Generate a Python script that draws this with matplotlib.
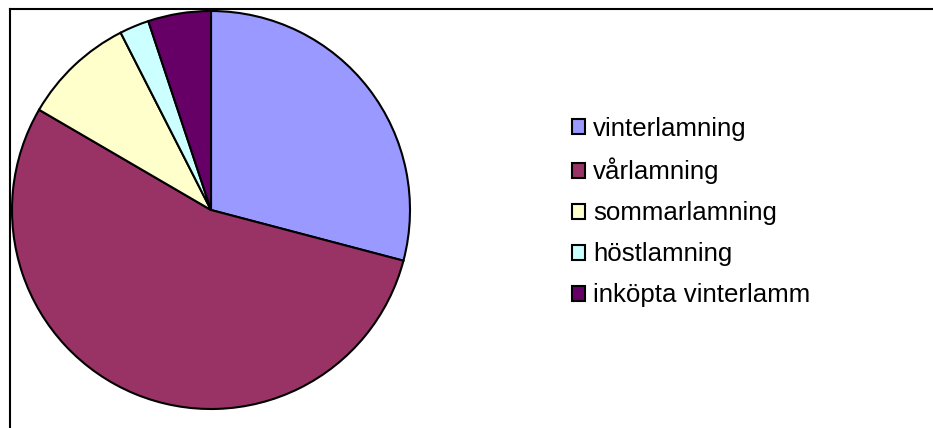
import matplotlib.pyplot as plt
from matplotlib.lines import Line2D

plt.rcParams['font.family'] = ['Liberation Sans', 'DejaVu Sans']

labels = ['vinterlamning', 'vårlamning', 'sommarlamning', 'höstlamning', 'inköpta vinterlamm']
shares = [29.1, 54.3, 9.1, 2.4, 5.1]
colors = ['#9999FF', '#993366', '#FFFFCC', '#CCFFFF', '#660066']

W, H = 933, 428
fig = plt.figure(figsize=(W / 100, H / 100), dpi=100)

# pie axes, square, center about (211, 210) px, radius ~199 px
cx, cy, r = 211, 210, 199
ax = fig.add_axes([(cx - r) / W, (H - cy - r) / H, 2 * r / W, 2 * r / H])
wedges, _ = ax.pie(shares, colors=colors, startangle=90, counterclock=False,
                   wedgeprops=dict(edgecolor='black', linewidth=1.5))
ax.set_xlim(-1, 1)
ax.set_ylim(-1, 1)
ax.set_aspect('equal')

# chart frame (top and left edges visible)
fig.add_artist(Line2D([9.5 / W, 1], [1 - 9 / H, 1 - 9 / H], transform=fig.transFigure,
                      color='black', lw=1.5))
fig.add_artist(Line2D([9.5 / W, 9.5 / W], [0, 1 - 9 / H], transform=fig.transFigure,
                      color='black', lw=1.5))

leg = fig.legend(wedges, labels, loc='center left',
                 bbox_to_anchor=(572 / W, (H - 212) / H),
                 frameon=False, fontsize=18.6, handlelength=0.52, handleheight=0.52,
                 handletextpad=0.3, labelspacing=0.66, borderaxespad=0, borderpad=0)
for h in leg.legend_handles:
    h.set_edgecolor('black')
    h.set_linewidth(1.5)

fig.savefig('out.png', dpi=100)
